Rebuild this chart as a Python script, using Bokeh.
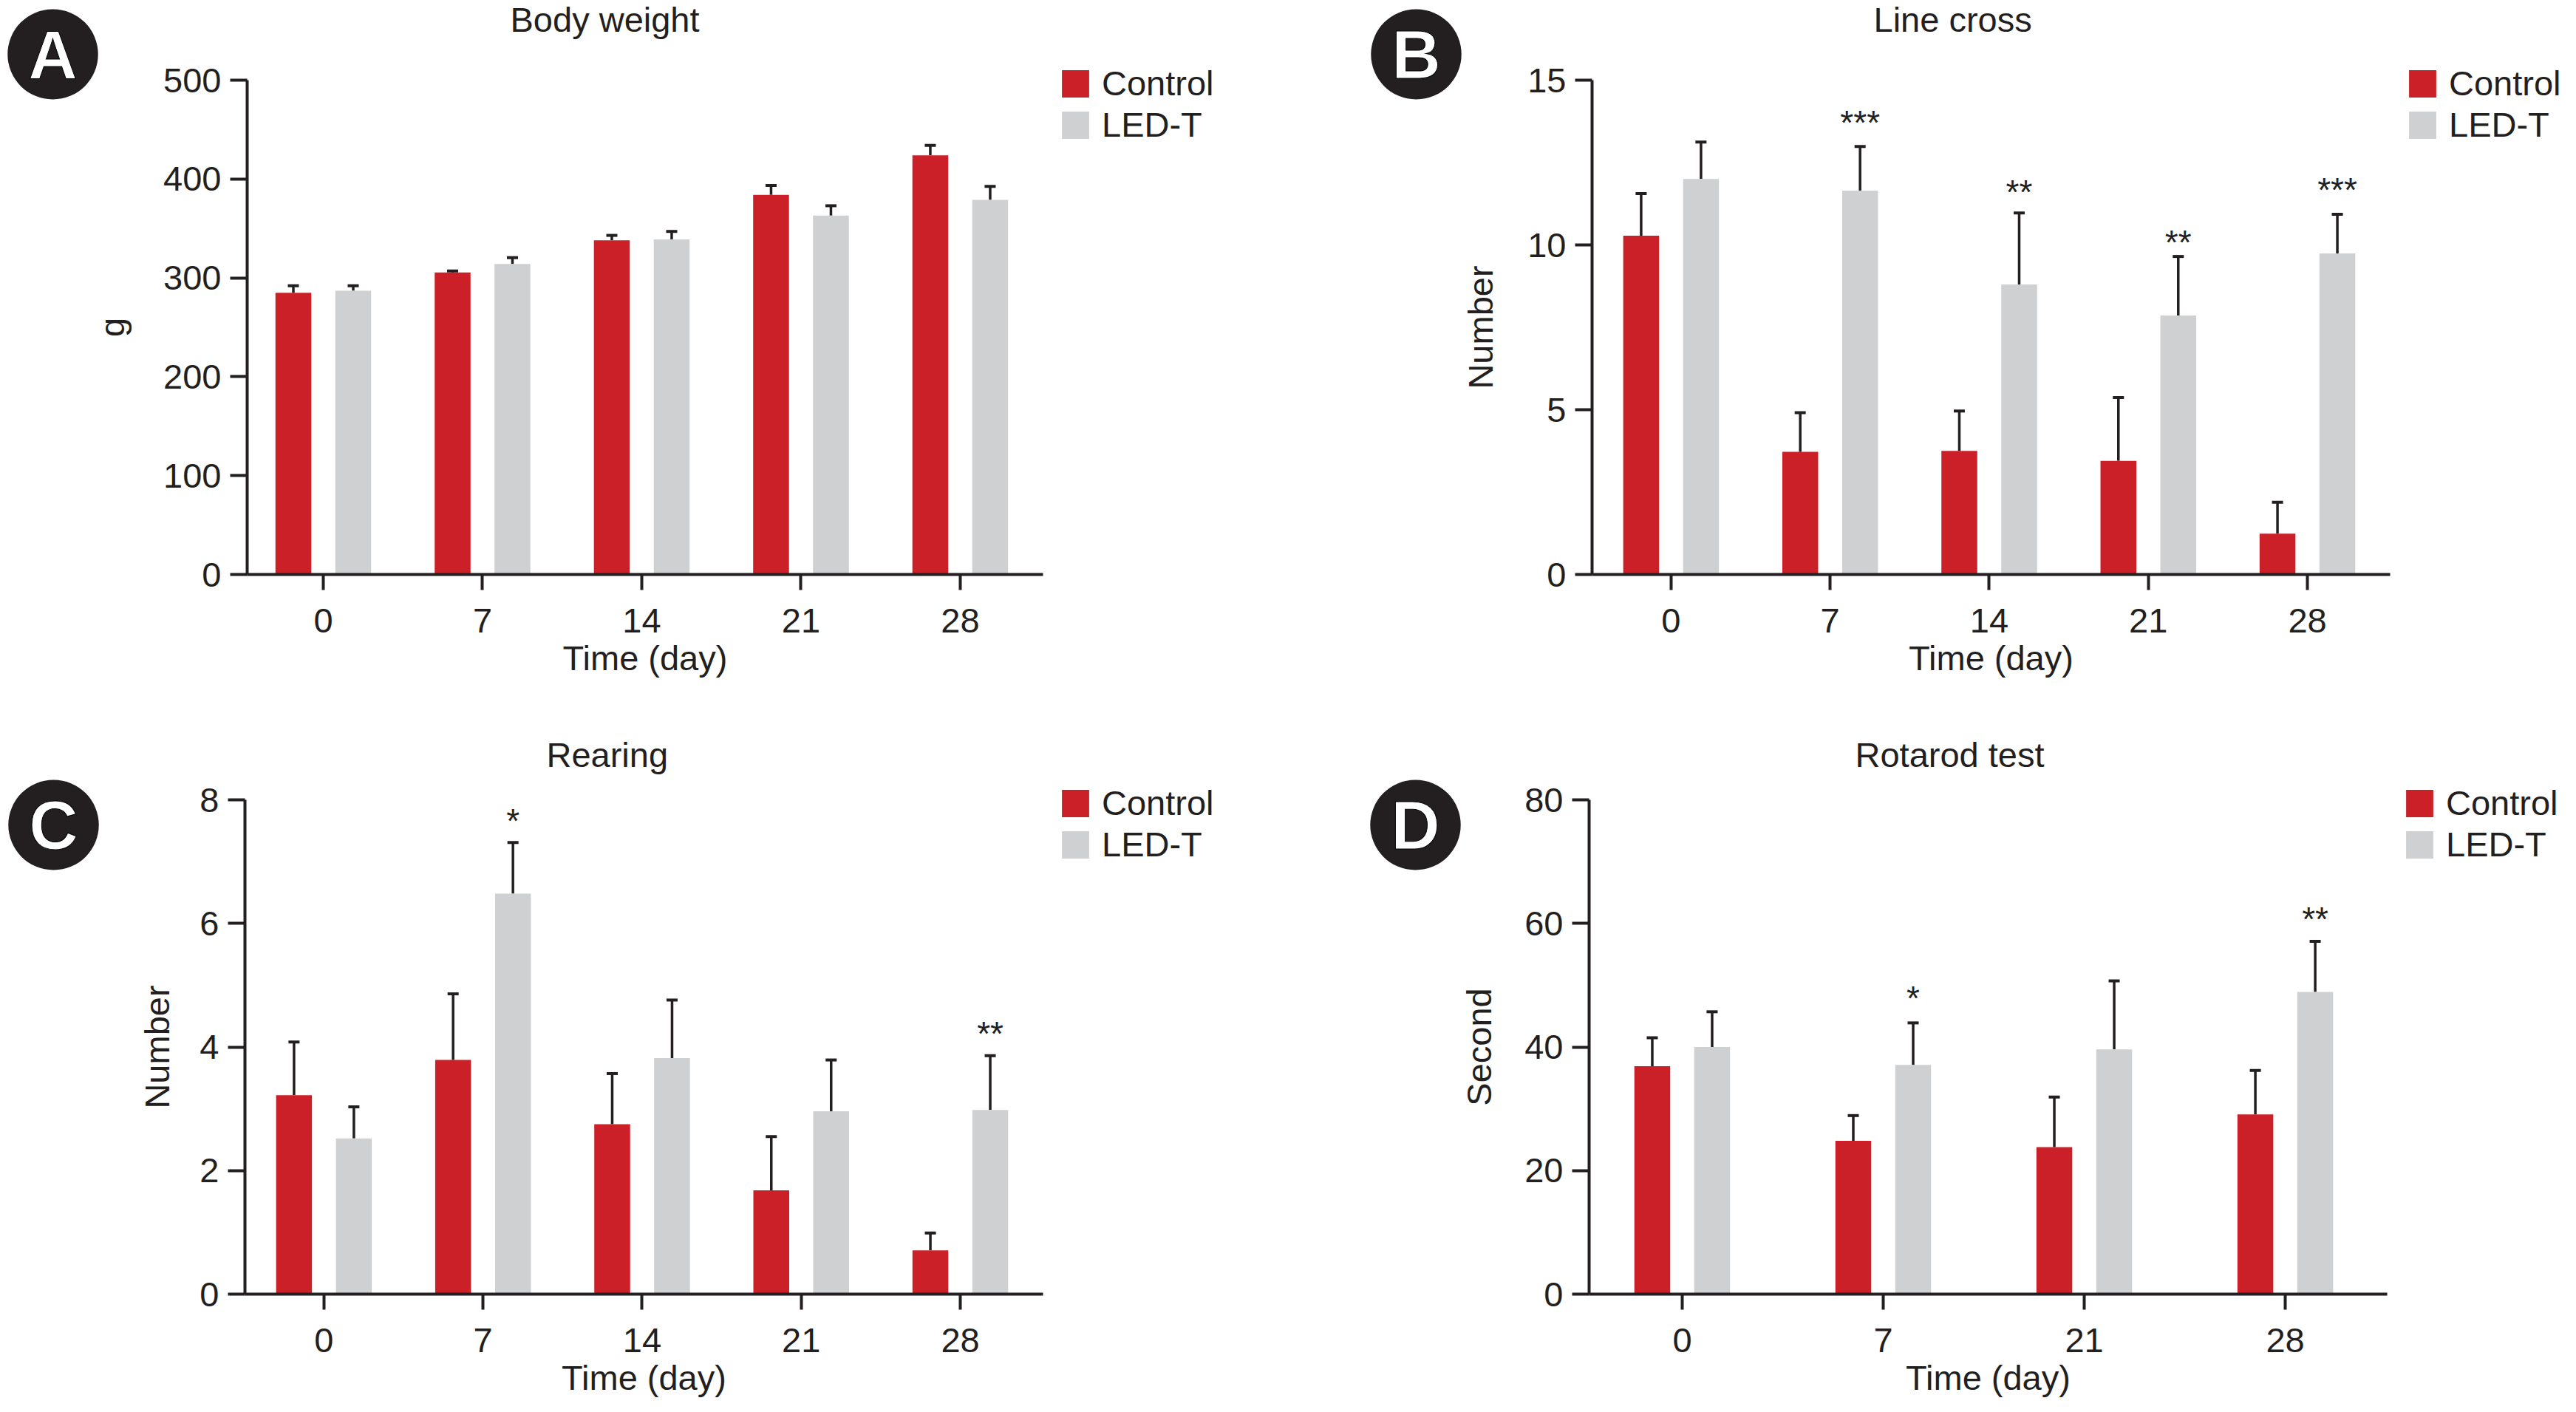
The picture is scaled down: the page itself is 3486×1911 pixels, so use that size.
from bokeh.plotting import figure
from bokeh.embed import file_html
from bokeh.resources import INLINE
from bokeh.layouts import column, row
from bokeh.core.properties import value
from bokeh.models import (ColumnDataSource, FixedTicker, Label, Legend,
                          LegendItem, Range1d, TeeHead, Whisker)

FONT = "Liberation Sans"
INK = "#231F20"
RED = "#CB2027"
GREY = "#CFD0D2"

days_a = ["0", "7", "14", "21", "28"]
control_a = [285, 305.5, 338, 384, 424]
control_a_top = [292, 307, 343, 393.5, 434]
led_a = [287, 314, 339, 363, 379]
led_a_top = [292, 320.5, 347, 373, 392.5]
ticks_a = [0, 100, 200, 300, 400, 500]
stars_a = []

days_b = ["0", "7", "14", "21", "28"]
control_b = [10.28, 3.72, 3.75, 3.45, 1.24]
control_b_top = [11.56, 4.91, 4.96, 5.37, 2.19]
led_b = [12.0, 11.65, 8.8, 7.86, 9.74]
led_b_top = [13.12, 12.99, 10.97, 9.65, 10.93]
ticks_b = [0, 5, 10, 15]
stars_b = [(1, "***", 13.88), (2, "**", 11.78), (3, "**", 10.26), (4, "***", 11.84)]

days_c = ["0", "7", "14", "21", "28"]
control_c = [3.22, 3.79, 2.75, 1.68, 0.71]
control_c_top = [4.08, 4.86, 3.57, 2.55, 0.99]
led_c = [2.52, 6.48, 3.82, 2.96, 2.98]
led_c_top = [3.03, 7.31, 4.76, 3.79, 3.86]
ticks_c = [0, 2, 4, 6, 8]
stars_c = [(1, "*", 7.75), (4, "**", 4.31)]

days_d = ["0", "7", "21", "28"]
control_d = [36.9, 24.8, 23.8, 29.1]
control_d_top = [41.5, 28.9, 31.9, 36.2]
led_d = [40, 37.1, 39.6, 48.9]
led_d_top = [45.7, 43.9, 50.7, 57.1]
ticks_d = [0, 20, 40, 60, 80]
stars_d = [(1, "*", 48.9), (3, "**", 61.6)]


def panel(letter, title, ylabel, days, ctrl, ctrl_top, led, led_top, yticks, stars,
          left, top, bottom, right, frame_w, frame_h, x_start, x_end,
          title_left, title_up, ylabel_standoff, badge_x, badge_up):
    p = figure(frame_width=frame_w, frame_height=frame_h,
               output_backend="svg", toolbar_location=None,
               x_range=Range1d(x_start, x_end), y_range=Range1d(yticks[0], yticks[-1]),
               min_border_left=left, min_border_top=top, min_border_bottom=bottom, min_border_right=right,
               outline_line_color=None, background_fill_color=None, border_fill_color="white")
    p.grid.visible = False
    unit = (x_end - x_start) / frame_w
    bar_w = 48.5 * unit
    off = 40.5 * unit
    xs = list(range(len(days)))
    src_c = ColumnDataSource(dict(x=[i - off for i in xs], top=ctrl, up=ctrl_top))
    src_l = ColumnDataSource(dict(x=[i + off for i in xs], top=led, up=led_top))
    for src in (src_c, src_l):
        p.add_layout(Whisker(source=src, base="x", upper="up", lower="top", dimension="height",
                             line_color=INK, line_width=3.5, lower_head=None,
                             upper_head=TeeHead(size=15, line_color=INK, line_width=4), level="underlay"))
    r1 = p.vbar(x="x", top="top", width=bar_w, bottom=0, source=src_c, fill_color=RED, line_color=None)
    r2 = p.vbar(x="x", top="top", width=bar_w, bottom=0, source=src_l, fill_color=GREY, line_color=None)

    if stars:
        st = ColumnDataSource(dict(x=[s[0] + off for s in stars], t=[s[1] for s in stars], y=[s[2] for s in stars]))
        p.text(x="x", y="y", text="t", source=st, text_font=value(FONT), text_font_size="46px",
               text_color=INK, text_align="center", text_baseline="alphabetic", y_offset=8)

    xa, ya = p.xaxis[0], p.yaxis[0]
    xa.ticker = FixedTicker(ticks=xs)
    xa.major_label_overrides = {i: d for i, d in zip(xs, days)}
    xa.axis_label = "Time (day)"
    ya.ticker = FixedTicker(ticks=yticks)
    ya.axis_label = ylabel
    for a in (xa, ya):
        a.axis_line_color = INK
        a.axis_line_width = 4
        a.major_tick_line_color = INK
        a.major_tick_line_width = 4
        a.major_tick_in = 0
        a.minor_tick_line_color = None
        a.major_label_text_font = FONT
        a.major_label_text_font_size = "47px"
        a.major_label_text_color = INK
        a.axis_label_text_font = FONT
        a.axis_label_text_font_size = "47px"
        a.axis_label_text_font_style = "normal"
        a.axis_label_text_color = INK
    xa.major_tick_out = 21
    ya.major_tick_out = 23
    xa.major_label_standoff = 25
    ya.major_label_standoff = 12
    xa.axis_label_standoff = 5
    ya.axis_label_standoff = ylabel_standoff

    p.add_layout(Label(x=title_left, y=title_up, x_units="screen", y_units="screen", text=title,
                       text_font=FONT, text_font_size="47px", text_color=INK,
                       text_align="left", text_baseline="alphabetic"), "above")

    lg = Legend(items=[LegendItem(label="Control", renderers=[r1]), LegendItem(label="LED-T", renderers=[r2])],
                location=(21, 581), orientation="vertical", padding=0, margin=0, spacing=1,
                glyph_width=46, glyph_height=46, label_height=46, label_standoff=13,
                label_text_font=FONT, label_text_font_size="47px", label_text_color=INK,
                border_line_color=None, background_fill_color=None, background_fill_alpha=0)
    p.add_layout(lg, "right")

    # panel badge: a round label
    p.add_layout(Label(x=badge_x, y=badge_up, x_units="screen", y_units="screen",
                       text=letter, anchor="center",
                       text_font=FONT, text_font_style="bold", text_font_size="92px",
                       text_color="white", text_outline_color="black",
                       background_fill_color=INK, border_radius=61, padding=(28, 10)), "left")
    return p


a = panel("A", "Body weight", "g", days_a, control_a, control_a_top, led_a, led_a_top, ticks_a, stars_a,
          331, 108, 173, 326, 1077, 669, -0.478, 4.52, 356, 82, 40, 71, 704)
b = panel("B", "Line cross", "Number", days_b, control_b, control_b_top, led_b, led_b_top, ticks_b, stars_b,
          414, 108, 173, 246, 1080, 669, -0.4965, 4.52, 381, 82, 34, 64, 704)
c = panel("C", "Rearing", "Number", days_c, control_c, control_c_top, led_c, led_c_top, ticks_c, stars_c,
          331, 132, 152, 327, 1080, 669, -0.4965, 4.52, 408, 61, 28, 11, 635)
d = panel("D", "Rotarod test", "Second", days_d, control_d, control_d_top, led_d, led_d_top, ticks_d, stars_d,
          414, 132, 152, 246, 1080, 669, -0.463, 3.507, 360, 61, 32, 65, 635)

# the legend panel leaves spare room to the right of the left-hand figures: pull the right-hand ones back over it
b.margin = (0, 0, 0, -336)
d.margin = (0, 0, 0, -340)

page = column(row(a, b, spacing=0), row(c, d, spacing=0), spacing=0)
open("out.html", "w").write(file_html(page, INLINE))
